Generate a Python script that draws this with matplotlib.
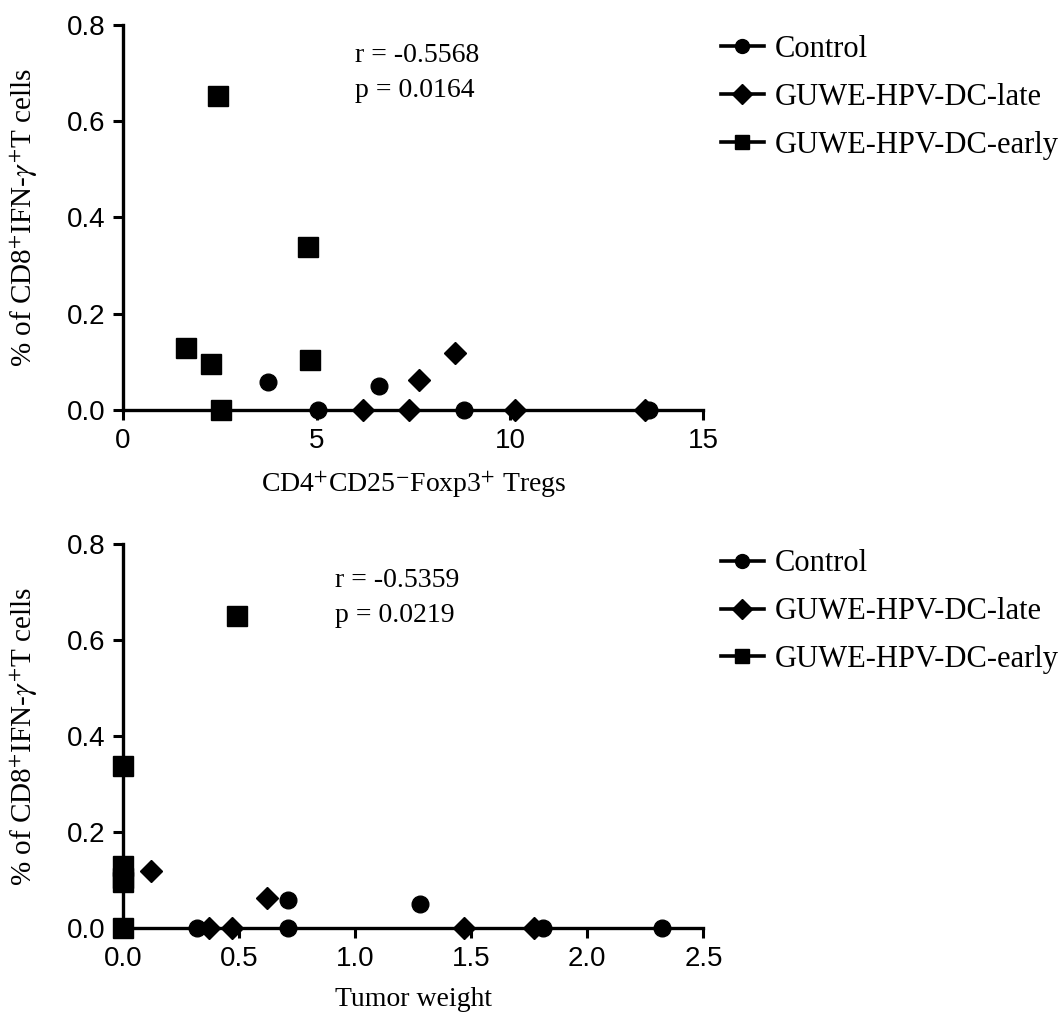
import matplotlib
matplotlib.use("Agg")
import matplotlib.pyplot as plt

plt.rcParams['font.family'] = ['Liberation Serif', 'DejaVu Serif']
plt.rcParams['mathtext.fontset'] = 'stix'

groups = ["Control", "GUWE-HPV-DC-late", "GUWE-HPV-DC-early"]
markers = ["o", "D", "s"]
msizes = [12, 11, 14]

# top panel: Tregs vs CD8+IFN-g+ T cells
tregs_control = [3.75, 6.62, 5.04, 8.82, 13.6]
cd8_control_1 = [0.058, 0.050, 0.0, 0.0, 0.0]
tregs_late = [7.65, 8.58, 6.2, 7.4, 10.14, 13.5]
cd8_late_1 = [0.062, 0.118, 0.0, 0.0, 0.0, 0.0]
tregs_early = [2.46, 4.78, 1.63, 2.28, 4.84, 2.53]
cd8_early_1 = [0.651, 0.338, 0.130, 0.095, 0.104, 0.0]

# bottom panel: tumor weight vs CD8+IFN-g+ T cells
weight_control = [0.71, 1.28, 0.32, 0.71, 1.81, 2.32]
cd8_control_2 = [0.058, 0.050, 0.0, 0.0, 0.0, 0.0]
weight_late = [0.12, 0.62, 0.37, 0.47, 1.47, 1.77]
cd8_late_2 = [0.118, 0.062, 0.0, 0.0, 0.0, 0.0]
weight_early = [0.49, 0.0, 0.0, 0.0, 0.0, 0.0]
cd8_early_2 = [0.651, 0.338, 0.130, 0.095, 0.104, 0.0]

ylab = r'% of CD8$^{+}$IFN-$\gamma^{+}$T cells'
sans = ['Liberation Sans', 'DejaVu Sans']

fig = plt.figure(figsize=(10.61, 10.23), dpi=100)
ax1 = fig.add_axes([0.116, 0.599, 0.547, 0.377])
ax2 = fig.add_axes([0.116, 0.093, 0.547, 0.375])


def draw(ax, xs, ys, xmax, xticks, xticklabels, xlabel, rtxt, ptxt, txy, legy):
    for x, y, m, ms, g in zip(xs, ys, markers, msizes, groups):
        ax.plot(x, y, ls='none', marker=m, ms=ms, color='black', clip_on=False, zorder=3)
    ax.set_xlim(0, xmax)
    ax.set_ylim(0, 0.8)
    ax.set_xticks(xticks)
    ax.set_xticklabels(xticklabels, family=sans, fontsize=20)
    ax.set_yticks([0, 0.2, 0.4, 0.6, 0.8])
    ax.set_yticklabels(["0.0", "0.2", "0.4", "0.6", "0.8"], family=sans, fontsize=20)
    for s in ['top', 'right']:
        ax.spines[s].set_visible(False)
    for s in ['left', 'bottom']:
        ax.spines[s].set_linewidth(2.4)
    ax.tick_params(direction='out', length=7, width=2.2, pad=6)
    ax.set_xlabel(xlabel, fontsize=20, labelpad=11)
    ax.set_ylabel(ylab, fontsize=21, labelpad=18)
    ax.text(txy[0], txy[1], rtxt, transform=ax.transAxes, fontsize=20, va='center')
    ax.text(txy[0], txy[1] - 0.09, ptxt, transform=ax.transAxes, fontsize=20, va='center')
    handles = [plt.Line2D([], [], color='black', lw=2.6, marker=m, ms=10) for m in markers]
    fig.legend(handles, groups, loc='upper left', bbox_to_anchor=(0.668, legy),
               frameon=False, fontsize=22, handlelength=1.4, handletextpad=0.35,
               labelspacing=0.62, borderaxespad=0)


draw(ax1, [tregs_control, tregs_late, tregs_early],
     [cd8_control_1, cd8_late_1, cd8_early_1],
     15, [0, 5, 10, 15], ["0", "5", "10", "15"],
     r'CD4$^{+}$CD25$^{-}$Foxp3$^{+}$ Tregs',
     "r = -0.5568", "p = 0.0164", (0.40, 0.92), 0.978)

draw(ax2, [weight_control, weight_late, weight_early],
     [cd8_control_2, cd8_late_2, cd8_early_2],
     2.5, [0, 0.5, 1.0, 1.5, 2.0, 2.5], ["0.0", "0.5", "1.0", "1.5", "2.0", "2.5"],
     'Tumor weight',
     "r = -0.5359", "p = 0.0219", (0.365, 0.905), 0.475)

fig.savefig("out.png", dpi=100)
